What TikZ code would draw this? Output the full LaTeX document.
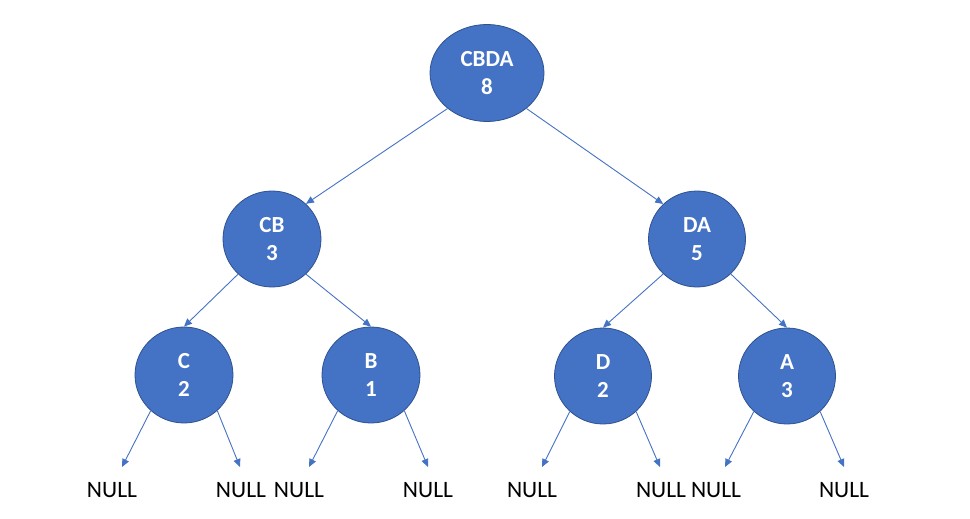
\documentclass[tikz,border=0pt]{standalone}
\usepackage{fontspec}
\setmainfont{Carlito}
\usetikzlibrary{shapes.geometric,arrows.meta}
\definecolor{nodeblue}{HTML}{4472C4}
\definecolor{nodeedge}{HTML}{2F528F}
\definecolor{arrowblue}{HTML}{4472C4}
\tikzset{
  treenode/.style={ellipse, fill=nodeblue, draw=nodeedge, line width=0.8pt,
    inner sep=0pt, align=center, text=white,
    font=\bfseries\fontsize{23}{28}\selectfont},
  nulltext/.style={font=\fontsize{23.5}{26}\selectfont, text=black, inner sep=0pt},
  link/.style={draw=arrowblue, line width=0.9pt, -{Triangle[length=8pt,width=7pt]}}
}
\begin{document}
\begin{tikzpicture}[x=1pt,y=-1pt]
\useasboundingbox (0,0) rectangle (970,519);
% tree nodes
\node[treenode, minimum width=114pt, minimum height=97pt] (cbda) at (487,73) {CBDA\\8};
\node[treenode, minimum width=98pt, minimum height=96pt] (cb) at (272,239) {CB\\3};
\node[treenode, minimum width=97pt, minimum height=96pt] (da) at (697,239) {DA\\5};
\node[treenode, minimum width=98pt, minimum height=96pt] (c) at (184,375) {C\\2};
\node[treenode, minimum width=98pt, minimum height=96pt] (b) at (371,375) {B\\1};
\node[treenode, minimum width=97pt, minimum height=96pt] (d) at (603,376) {D\\2};
\node[treenode, minimum width=97pt, minimum height=96pt] (a) at (787,376) {A\\3};
% NULL labels
\node[nulltext] (n1) at (112,490) {NULL};
\node[nulltext] (n2) at (241,490) {NULL};
\node[nulltext] (n3) at (299,490) {NULL};
\node[nulltext] (n4) at (428,490) {NULL};
\node[nulltext] (n5) at (532,490) {NULL};
\node[nulltext] (n6) at (661,490) {NULL};
\node[nulltext] (n7) at (716,490) {NULL};
\node[nulltext] (n8) at (844,490) {NULL};
% arrow tips above NULL labels
\coordinate (t1) at (122,467);
\coordinate (t2) at (240,467);
\coordinate (t3) at (309,467);
\coordinate (t4) at (428,467);
\coordinate (t5) at (542,467);
\coordinate (t6) at (660,467);
\coordinate (t7) at (725,467);
\coordinate (t8) at (844,467);
% tree links
\draw[link] (cbda.-138) -- (cb.46);
\draw[link] (cbda.-42) -- (da.134);
\draw[link] (cb.-134) -- (c.north);
\draw[link] (cb.-46) -- (b.north);
\draw[link] (da.-134) -- (d.north);
\draw[link] (da.-46) -- (a.north);
% NULL links
\draw[link] (c.-133) -- (t1);
\draw[link] (c.-47) -- (t2);
\draw[link] (b.-133) -- (t3);
\draw[link] (b.-47) -- (t4);
\draw[link] (d.-133) -- (t5);
\draw[link] (d.-47) -- (t6);
\draw[link] (a.-133) -- (t7);
\draw[link] (a.-47) -- (t8);
\end{tikzpicture}
\end{document}
